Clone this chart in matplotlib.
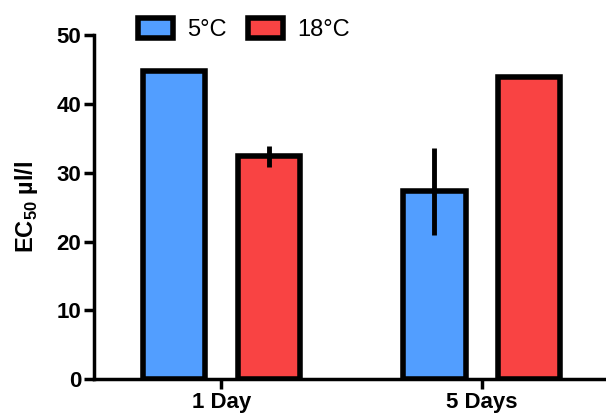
import numpy as np
import matplotlib.pyplot as plt

plt.rcParams['font.family'] = ['Liberation Sans', 'DejaVu Sans']
plt.rcParams['mathtext.fontset'] = 'custom'
plt.rcParams['mathtext.rm'] = 'Liberation Sans'
plt.rcParams['mathtext.bf'] = 'Liberation Sans:bold'

groups = ['1 Day', '5 Days']
temps = ['5°C', '18°C']
ec50_5c = [44.8, 27.3]
err_5c = [0, 6.3]
ec50_18c = [32.4, 43.9]
err_18c = [1.5, 0]
colors = ['#529eff', '#f94343']

fig = plt.figure(figsize=(6.06, 4.18), dpi=100)
ax = fig.add_axes([0.155, 0.093, 0.845, 0.823])

x = np.arange(len(groups))
w = 0.24
off = 0.182
ax.bar(x - off, ec50_5c, w, color=colors[0], edgecolor='black', linewidth=4, label=temps[0])
ax.bar(x + off, ec50_18c, w, color=colors[1], edgecolor='black', linewidth=4, label=temps[1])
ax.errorbar(x - off, ec50_5c, yerr=err_5c, fmt='none', ecolor='black', elinewidth=3.5, capsize=0)
ax.errorbar(x + off, ec50_18c, yerr=err_18c, fmt='none', ecolor='black', elinewidth=3.5, capsize=0)

ax.set_xlim(-0.49, 1.477)
ax.set_ylim(0, 50)
ax.set_yticks([0, 10, 20, 30, 40, 50])
ax.set_xticks(x)
ax.set_xticklabels(groups)
for s in ['top', 'right']:
    ax.spines[s].set_visible(False)
for s in ['left', 'bottom']:
    ax.spines[s].set_linewidth(2.5)
ax.tick_params(width=2.5, length=7, labelsize=16, pad=2)
for lab in ax.get_xticklabels() + ax.get_yticklabels():
    lab.set_fontweight('bold')
ax.set_ylabel('EC$_{\\mathbf{50}}$ µl/l', fontsize=17, fontweight='bold', labelpad=12)

ax.legend(loc='center', bbox_to_anchor=(0.293, 1.015), ncol=2, frameon=False,
          fontsize=17, handlelength=1.5, handleheight=0.9, handletextpad=0.6,
          columnspacing=0.9)

fig.savefig('out.png', dpi=100)
